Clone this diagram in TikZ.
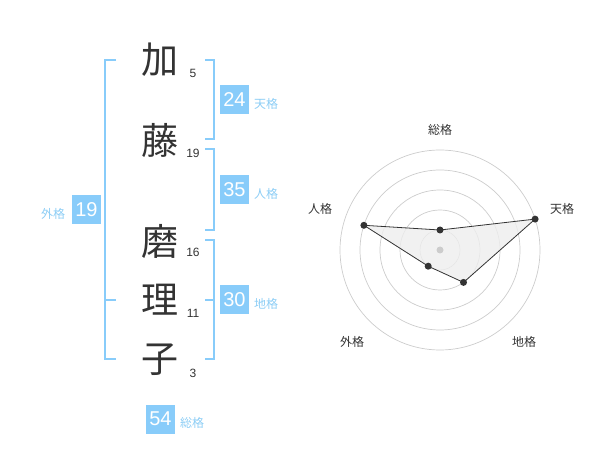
\documentclass[tikz,border=0pt]{standalone}
\usepackage{fontspec}
\setmainfont{Liberation Sans}
\newfontfamily\cjk{Noto Sans CJK JP}
\definecolor{boxblue}{HTML}{88CCFA}
\definecolor{lblblue}{HTML}{8CCDF5}
\definecolor{ink}{HTML}{333333}
\definecolor{ring}{HTML}{CCCCCC}
\definecolor{polyfill}{HTML}{EEEEEE}
\begin{document}
\begin{tikzpicture}[x=1pt,y=-1pt,
  kanji/.style={font=\cjk\fontsize{37}{40}\selectfont, text=ink, inner sep=0pt},
  strokes/.style={font=\fontsize{12}{14}\selectfont, text=ink, inner sep=0pt},
  valbox/.style={fill=boxblue, text=white, minimum width=29pt, minimum height=29pt, inner sep=0pt, font=\fontsize{20}{22}\selectfont},
  lbl/.style={font=\cjk\fontsize{12}{14}\selectfont, text=lblblue, inner sep=0pt},
  brk/.style={draw=boxblue, line width=1.5pt},
  radlbl/.style={font=\cjk\fontsize{12}{14}\selectfont, text=ink, inner sep=0pt},
  ringst/.style={draw=ring, line width=0.7pt},
  dotst/.style={circle, fill=ink, inner sep=0pt, minimum size=7pt}]
\useasboundingbox (0,0) rectangle (600,470);
% characters
\node[kanji] (k1) at (160,60) {加};
\node[kanji] (k2) at (160,140) {藤};
\node[kanji] (k3) at (160,241) {磨};
\node[kanji] (k4) at (160,300) {理};
\node[kanji] (k5) at (160,360) {子};
\node[strokes] (s1) at (193,73) {5};
\node[strokes] (s2) at (193,153) {19};
\node[strokes] (s3) at (193,252) {16};
\node[strokes] (s4) at (193,313) {11};
\node[strokes] (s5) at (193,373) {3};
% brackets
\draw[brk] (116,60) -- (105,60) -- (105,359) -- (116,359);
\draw[brk] (105,300) -- (116,300);
\draw[brk] (205,60) -- (214,60) -- (214,139) -- (205,139);
\draw[brk] (205,149) -- (214,149) -- (214,230) -- (205,230);
\draw[brk] (205,240) -- (214,240) -- (214,359) -- (205,359);
\draw[brk] (205,300) -- (214,300);
% value boxes
\node[valbox] (ten) at (234.5,100) {24};
\node[lbl] (tenl) at (266,104) {天格};
\node[valbox] (jin) at (234.5,190) {35};
\node[lbl] (jinl) at (266,194) {人格};
\node[valbox] (chi) at (234.5,300) {30};
\node[lbl] (chil) at (266,304) {地格};
\node[valbox] (gai) at (86.5,210) {19};
\node[lbl] (gail) at (53,213.5) {外格};
\node[valbox] (sou) at (160.5,419) {54};
\node[lbl] (soul) at (192,422.5) {総格};
% radar
\coordinate (c) at (440,250);
\foreach \r in {20,40,60,80,100} \draw[ringst] (c) circle[radius=\r];
\path (c) ++(0,-20) coordinate (pS);
\path (c) ++(95.1,-30.9) coordinate (pTen);
\path (c) ++(23.5,32.4) coordinate (pChi);
\path (c) ++(-11.8,16.2) coordinate (pGai);
\path (c) ++(-76.1,-24.7) coordinate (pJin);
\draw[ink, line width=0.8pt, fill=polyfill, fill opacity=0.8] (pS) -- (pTen) -- (pChi) -- (pGai) -- (pJin) -- cycle;
\fill[ring] (c) circle[radius=3.5];
\node[dotst] (dS) at (pS) {};
\node[dotst] (dTen) at (pTen) {};
\node[dotst] (dChi) at (pChi) {};
\node[dotst] (dGai) at (pGai) {};
\node[dotst] (dJin) at (pJin) {};
\node[radlbl] (rS) at (440,130) {総格};
\node[radlbl] (rTen) at (562,208.5) {天格};
\node[radlbl] (rChi) at (524,342) {地格};
\node[radlbl] (rGai) at (352,342) {外格};
\node[radlbl] (rJin) at (320,209) {人格};
\end{tikzpicture}
\end{document}
